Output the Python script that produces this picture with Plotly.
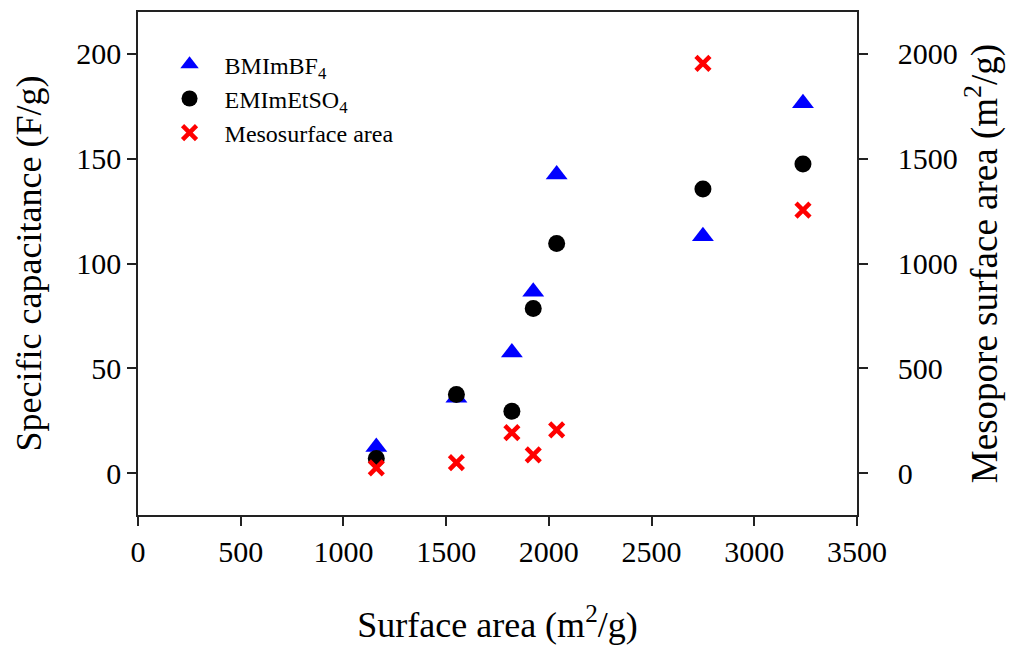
import plotly.graph_objects as go

# Surface area of each carbon sample (m2/g)
surface_area = [1160, 1550, 1820, 1924, 2038, 2750, 3237]

# Specific capacitance (F/g) in two ionic liquids
cap_bmimbf4 = [12.5, 36, 57.5, 86.5, 142.5, 113, 176.5]
cap_emimetso4 = [7, 37.5, 29.5, 78.5, 109.5, 135.5, 147.5]

# Mesopore surface area (m2/g), right axis
meso_area = [25, 50, 193, 87, 206, 1955, 1255]

font_family = "Liberation Serif, Times New Roman, serif"

fig = go.Figure()

fig.add_trace(go.Scatter(
    x=surface_area, y=cap_bmimbf4, mode="markers", name="BMImBF<sub>4</sub>",
    marker=dict(symbol="triangle-up", size=19, color="#0000ff", line=dict(width=0)),
))
fig.add_trace(go.Scatter(
    x=surface_area, y=cap_emimetso4, mode="markers", name="EMImEtSO<sub>4</sub>",
    marker=dict(symbol="circle", size=17, color="#000000", line=dict(width=0)),
))
fig.add_trace(go.Scatter(
    x=surface_area, y=meso_area, mode="markers", name="Mesosurface area",
    yaxis="y2",
    marker=dict(symbol="x-thin", size=14, color="#ff0000",
                line=dict(width=4.5, color="#ff0000")),
))

axis_common = dict(
    showline=True, linecolor="#222222", linewidth=1.5,
    ticks="outside", ticklen=9, tickwidth=1.5, tickcolor="#222222",
    showgrid=False, zeroline=False, automargin=False,
    tickfont=dict(family=font_family, size=30, color="#000000"),
)

fig.update_layout(
    width=1018, height=645,
    margin=dict(l=138, r=161, t=12, b=130),
    paper_bgcolor="white", plot_bgcolor="white",
    font=dict(family=font_family, color="#000000"),
    xaxis=dict(
        range=[0, 3500], tickvals=[0, 500, 1000, 1500, 2000, 2500, 3000, 3500],
        mirror=True,
        title=dict(text="Surface area (m<sup>2</sup>/g)",
                   font=dict(family=font_family, size=36), standoff=46),
        **axis_common,
    ),
    yaxis=dict(
        range=[-20, 220], tickvals=[0, 50, 100, 150, 200],
        title=dict(text="Specific capacitance (F/g)",
                   font=dict(family=font_family, size=36), standoff=24),
        **axis_common,
    ),
    yaxis2=dict(
        range=[-200, 2200], tickvals=[0, 500, 1000, 1500, 2000],
        overlaying="y", side="right", ticklabelstandoff=24,
        title=dict(text="Mesopore surface area (m<sup>2</sup>/g)",
                   font=dict(family=font_family, size=37), standoff=14),
        **axis_common,
    ),
    showlegend=True,
    legend=dict(
        x=0.023, y=0.94, xanchor="left", yanchor="top",
        bgcolor="rgba(0,0,0,0)", borderwidth=0,
        font=dict(family=font_family, size=24, color="#000000"),
        itemwidth=60,
    ),
)

fig.write_html("out.html")
